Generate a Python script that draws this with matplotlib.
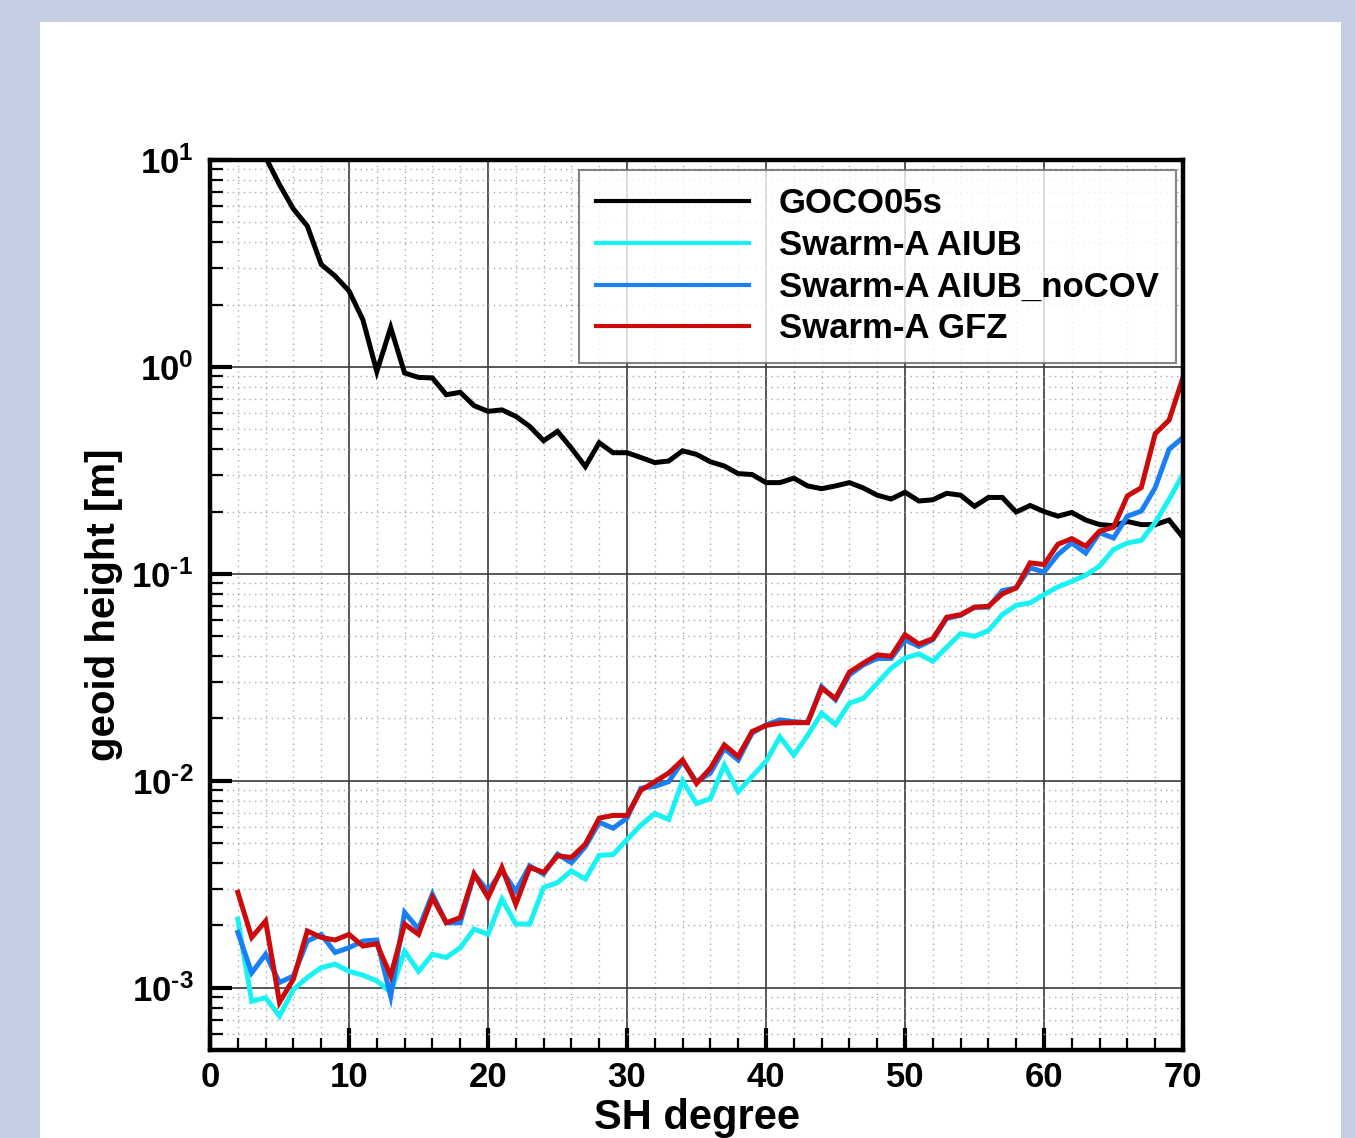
import numpy as np
import matplotlib
matplotlib.use("Agg")
import matplotlib.pyplot as plt
from matplotlib.patches import Rectangle

plt.rcParams['font.family'] = ['Liberation Sans', 'DejaVu Sans']
plt.rcParams['font.weight'] = 'bold'
plt.rcParams['mathtext.fontset'] = 'custom'
plt.rcParams['mathtext.rm'] = 'Liberation Sans:bold'
plt.rcParams['mathtext.bf'] = 'Liberation Sans:bold'
plt.rcParams['mathtext.it'] = 'Liberation Sans:bold'
plt.rcParams['axes.unicode_minus'] = False

degrees = list(range(2, 71))

goco05s = [25.0, 16.0, 10.3, 7.6, 5.8, 4.8, 3.13, 2.75, 2.33, 1.69, 0.95, 1.55,
           0.935, 0.89, 0.885, 0.734, 0.754, 0.65, 0.61, 0.62, 0.577, 0.516,
           0.44, 0.488, 0.405, 0.33, 0.43, 0.385, 0.385, 0.365, 0.345, 0.351,
           0.393, 0.378, 0.348, 0.332, 0.305, 0.302, 0.276, 0.276, 0.29, 0.266,
           0.258, 0.266, 0.276, 0.26, 0.24, 0.23, 0.248, 0.225, 0.228, 0.245,
           0.24, 0.212, 0.234, 0.234, 0.199, 0.214, 0.2, 0.19, 0.198, 0.182,
           0.173, 0.171, 0.179, 0.173, 0.173, 0.182, 0.15]

swarm_aiub = [2.14e-3, 0.86e-3, 0.894e-3, 0.73e-3, 0.98e-3, 1.12e-3, 1.25e-3,
              1.30e-3, 1.20e-3, 1.15e-3, 1.08e-3, 0.95e-3, 1.50e-3, 1.20e-3,
              1.45e-3, 1.40e-3, 1.56e-3, 1.92e-3, 1.81e-3, 2.68e-3, 2.03e-3,
              2.03e-3, 3.05e-3, 3.22e-3, 3.67e-3, 3.35e-3, 4.36e-3, 4.4e-3,
              5.2e-3, 6.1e-3, 6.95e-3, 6.5e-3, 1.0e-2, 7.76e-3, 8.2e-3, 1.19e-2,
              8.85e-3, 1.05e-2, 1.24e-2, 1.63e-2, 1.33e-2, 1.66e-2, 2.12e-2,
              1.87e-2, 2.37e-2, 2.5e-2, 2.96e-2, 3.5e-2, 3.92e-2, 4.1e-2, 3.78e-2,
              4.42e-2, 5.14e-2, 4.99e-2, 5.32e-2, 6.35e-2, 7.05e-2, 7.24e-2,
              7.94e-2, 8.65e-2, 9.2e-2, 9.85e-2, 0.109, 0.131, 0.141, 0.145,
              0.177, 0.229, 0.303]

swarm_aiub_nocov = [1.85e-3, 1.18e-3, 1.45e-3, 1.06e-3, 1.14e-3, 1.68e-3, 1.81e-3,
                    1.48e-3, 1.56e-3, 1.68e-3, 1.70e-3, 0.91e-3, 2.31e-3, 1.92e-3,
                    2.83e-3, 2.06e-3, 2.06e-3, 3.54e-3, 2.93e-3, 3.68e-3, 2.93e-3,
                    3.88e-3, 3.54e-3, 4.42e-3, 4.02e-3, 4.8e-3, 6.3e-3, 5.9e-3,
                    6.6e-3, 9.2e-3, 9.4e-3, 9.9e-3, 1.24e-2, 9.9e-3, 1.09e-2,
                    1.43e-2, 1.26e-2, 1.7e-2, 1.86e-2, 1.97e-2, 1.93e-2, 1.91e-2,
                    2.85e-2, 2.46e-2, 3.25e-2, 3.63e-2, 3.9e-2, 3.9e-2, 4.8e-2,
                    4.46e-2, 4.8e-2, 6.1e-2, 6.3e-2, 6.9e-2, 6.9e-2, 8.3e-2,
                    8.55e-2, 0.107, 0.102, 0.124, 0.141, 0.126, 0.158, 0.149,
                    0.19, 0.201, 0.261, 0.40, 0.456]

swarm_gfz = [2.89e-3, 1.75e-3, 2.10e-3, 0.85e-3, 1.10e-3, 1.88e-3, 1.75e-3,
             1.70e-3, 1.81e-3, 1.59e-3, 1.63e-3, 1.14e-3, 2.03e-3, 1.81e-3,
             2.73e-3, 2.06e-3, 2.18e-3, 3.54e-3, 2.73e-3, 3.81e-3, 2.53e-3,
             3.81e-3, 3.61e-3, 4.34e-3, 4.26e-3, 4.94e-3, 6.6e-3, 6.8e-3,
             6.8e-3, 9.0e-3, 9.9e-3, 1.09e-2, 1.26e-2, 9.7e-3, 1.15e-2, 1.49e-2,
             1.31e-2, 1.73e-2, 1.85e-2, 1.9e-2, 1.91e-2, 1.91e-2, 2.8e-2, 2.5e-2,
             3.35e-2, 3.7e-2, 4.06e-2, 4.0e-2, 5.08e-2, 4.58e-2, 4.86e-2,
             6.17e-2, 6.35e-2, 6.9e-2, 6.97e-2, 8.0e-2, 8.55e-2, 0.113, 0.111,
             0.139, 0.148, 0.136, 0.161, 0.168, 0.238, 0.261, 0.476, 0.553, 0.89]

series_labels = ["GOCO05s", "Swarm-A AIUB", "Swarm-A AIUB_noCOV", "Swarm-A GFZ"]
series_colors = ["#000000", "#19f2f2", "#1a7ef5", "#cc0a0a"]

x_ticks = [0, 10, 20, 30, 40, 50, 60, 70]
y_ticks = [1e-3, 1e-2, 1e-1, 1e0, 1e1]
y_tick_labels = [r'$\mathbf{10^{\text{-}3}}$', r'$\mathbf{10^{\text{-}2}}$',
                 r'$\mathbf{10^{\text{-}1}}$', r'$\mathbf{10^{0}}$', r'$\mathbf{10^{1}}$']

W, H = 1355, 1138
fig = plt.figure(figsize=(W / 100, H / 100), dpi=100)
fig.patch.set_facecolor("#c4cfe4")
panel = Rectangle((40 / W, 0), (1341 - 40) / W, 1 - 22 / H,
                  transform=fig.transFigure, facecolor="white",
                  edgecolor="none", zorder=-10)
fig.add_artist(panel)

ax = fig.add_axes([210 / W, 1 - 1050 / H, (1183 - 210) / W, (1050 - 160) / H])
ax.set_zorder(1)
ax.set_facecolor("white")

for vals, lab, col in zip([goco05s, swarm_aiub, swarm_aiub_nocov, swarm_gfz],
                          series_labels, series_colors):
    ax.plot(degrees, vals, color=col, lw=3.6, label=lab, zorder=3,
            solid_joinstyle='miter')

ax.set_yscale('log')
ax.set_xlim(0, 70)
ax.set_ylim(5e-4, 10)

ax.set_xticks(x_ticks)
ax.set_xticks(np.arange(0, 71, 2), minor=True)
ax.set_yticks(y_ticks)
ax.set_yticklabels(y_tick_labels)
ax.yaxis.set_minor_locator(matplotlib.ticker.LogLocator(base=10, subs=np.arange(2, 10)))
ax.yaxis.set_minor_formatter(matplotlib.ticker.NullFormatter())

ax.tick_params(axis='both', which='major', direction='in', length=16, width=3,
               labelsize=25, color='black')
ax.tick_params(axis='both', which='minor', direction='in', length=9, width=1.6,
               color='black')
ax.tick_params(axis='x', which='major', pad=8)
ax.tick_params(axis='y', which='major', pad=12)
for lab in ax.get_xticklabels():
    lab.set_fontweight('bold')

ax.grid(True, which='major', color='#3a3a3a', lw=1.2, ls='-', zorder=1)
ax.grid(True, which='minor', color='#aaaaaa', lw=1.0, ls=(0, (1, 3)), zorder=1)
ax.set_axisbelow(True)

for sp in ax.spines.values():
    sp.set_linewidth(3.2)
    sp.set_color('black')
    sp.set_zorder(5)

ax.set_xlabel("SH degree", fontsize=30, fontweight='bold', labelpad=3)
ax.set_ylabel("geoid height [m]", fontsize=29, fontweight='bold', labelpad=6)

leg = ax.legend(loc='upper right', bbox_to_anchor=(1 - 7 / 973, 1 - 10 / 890),
                borderaxespad=0, fontsize=25,
                handlelength=4.4, handletextpad=0.86, labelspacing=0.25,
                borderpad=0.5, frameon=True, fancybox=False)
leg.get_frame().set_edgecolor('#666666')
leg.get_frame().set_linewidth(1.5)
for t in leg.get_texts():
    t.set_fontweight('bold')
for ln in leg.get_lines():
    ln.set_linewidth(3.0)

fig.savefig("out.png", dpi=100, facecolor=fig.get_facecolor())
